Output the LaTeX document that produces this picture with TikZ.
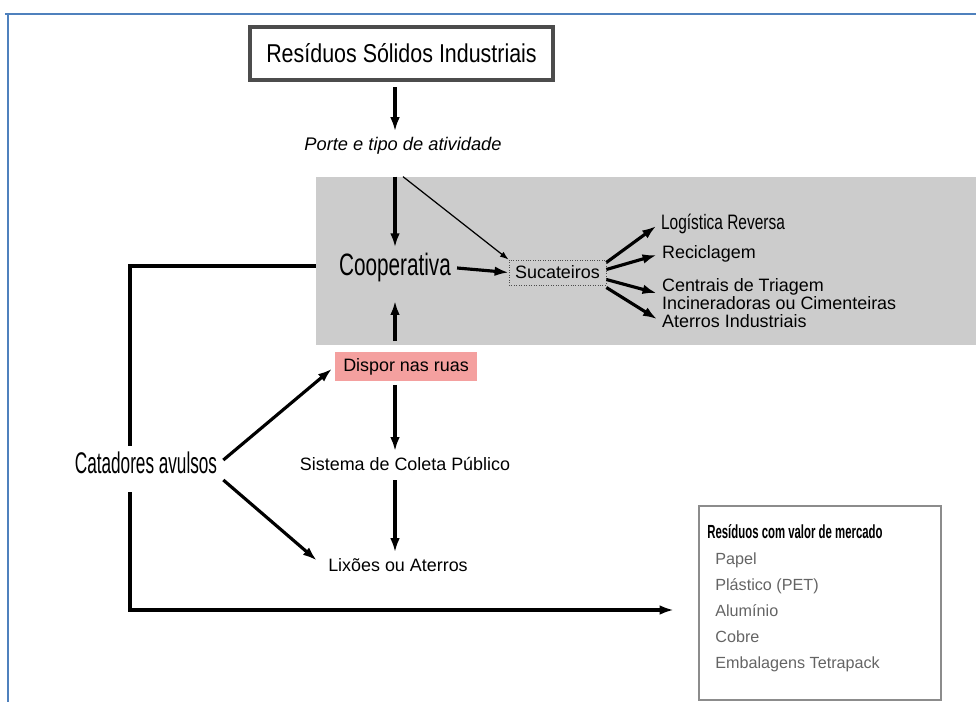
\documentclass[tikz,border=0pt]{standalone}
\usepackage{fontspec}
\setmainfont{Liberation Sans}
\newfontfamily\condtitle[FakeStretch=0.83]{Liberation Sans}
\newfontfamily\condcoop[FakeStretch=0.67]{Liberation Sans}
\newfontfamily\condcat[FakeStretch=0.575]{Liberation Sans}
\newfontfamily\condlog[FakeStretch=0.74]{Liberation Sans}
\newfontfamily\condhead[FakeStretch=0.6]{Liberation Sans}
\usetikzlibrary{positioning, calc, arrows.meta}
\definecolor{framecolor}{RGB}{79,129,189}
\definecolor{zonecolor}{RGB}{204,204,204}
\definecolor{pinkbox}{RGB}{244,160,159}
\definecolor{itemgray}{RGB}{100,100,100}
\tikzstyle{small} = [font=\fontsize{10.2}{12}\selectfont]
\tikzstyle{bigarrow} = [line width=1.8pt,-{Latex[length=8pt,width=5.5pt]}]
\tikzstyle{thinarrow} = [line width=0.7pt,-{Latex[length=5pt,width=3.5pt]}]
\tikzstyle{loopline} = [line width=1.8pt]
\tikzstyle{itemtxt} = [font=\fontsize{9.2}{11}\selectfont, text=itemgray, inner sep=0]

\begin{document}
\begin{tikzpicture}[x=0.02cm,y=-0.02cm]
		\useasboundingbox (0,0) rectangle (976,702);
		\draw[framecolor,line width=1.1pt] (5,14) -- (976,14);
		\draw[framecolor,line width=1.1pt] (8,14) -- (8,702);
		
		\node[fill=zonecolor,minimum width=13.2cm,minimum height=3.36cm,inner sep=0](zona) at (646,261){};
		\node[draw=black!70,line width=2pt,minimum width=6.06cm,minimum height=1.06cm,font=\condtitle\fontsize{14.7}{18}\selectfont](rsi) at (401.5,53.5){Resíduos Sólidos Industriais};
		\node[small,font=\itshape\fontsize{10.4}{12}\selectfont](porte) at (403,146){Porte e tipo de atividade};
		\node[font=\condcoop\fontsize{17.6}{20}\selectfont](coop) at (395,268){Cooperativa};
		\node[small,draw=black!70,densely dotted,minimum width=1.94cm,minimum height=0.5cm,inner sep=0](sucat) at (557.5,272.5){Sucateiros};
		\node[font=\condlog\fontsize{11.9}{14}\selectfont,anchor=west,inner sep=1pt](logi) at (659,224){Logística Reversa};
		\node[small,anchor=west,inner sep=1pt](recic) at (660,254){Reciclagem};
		\node[small,font=\fontsize{10.2}{8}\selectfont,anchor=west,align=left,inner sep=1pt](centrais) at (660,294){Centrais de Triagem\\Incineradoras ou Cimenteiras};
		\node[small,anchor=west,inner sep=1pt](aterros) at (660,321){Aterros Industriais};
		\node[small,fill=pinkbox,minimum width=2.84cm,minimum height=0.58cm,inner sep=0](dispor) at (406,366.5){Dispor nas ruas};
		\node[small](sistema) at (405,464){Sistema de Coleta Público};
		\node[small](lixoes) at (398,565){Lixões ou Aterros};
		\node[font=\condcat\fontsize{17}{20}\selectfont](catad) at (146,463){Catadores avulsos};
		\node[draw=black!45,line width=1.5pt,minimum width=4.84cm,minimum height=3.88cm](mercado) at (820,603){};
		\node[font=\condhead\bfseries\fontsize{10.8}{12}\selectfont,anchor=west,inner sep=0](merctit) at (707,532){Resíduos com valor de mercado};
		\foreach \item [count=\i] in {Papel, Plástico (PET), Alumínio, Cobre, Embalagens Tetrapack}
			\node[itemtxt,anchor=base west](item\i) at (715,538+26*\i){\item};
		
		\draw[bigarrow,shorten <=3pt](rsi.south -| coop)--(porte.north -| coop);
		\draw[bigarrow](zona.north -| coop)--(coop.north);
		\draw[thinarrow]($(zona.north -| coop)+(8,0)$)--(sucat.north west);
		\draw[bigarrow](coop.east)--(sucat.west);
		\draw[bigarrow,shorten >=2pt]($(sucat.east)+(0,-10)$)--(logi.west);
		\draw[bigarrow,shorten >=2pt]($(sucat.east)+(0,-3)$)--(recic.west);
		\draw[bigarrow,shorten >=2pt]($(sucat.east)+(0,7)$)--(centrais.west);
		\draw[bigarrow,shorten >=2pt]($(sucat.east)+(0,15)$)--(aterros.west);
		\draw[bigarrow,shorten <=6pt,shorten >=7pt](dispor.north -| coop)--(coop.south);
		\draw[bigarrow,shorten <=2pt](dispor.south -| coop)--(sistema.north -| coop);
		\draw[bigarrow,shorten <=2pt](sistema.south -| coop)--(lixoes.north -| coop);
		\draw[bigarrow,shorten >=2pt]($(catad.east)+(0,-3)$)--(dispor.west);
		\draw[bigarrow,shorten >=4pt]($(catad.east)+(0,17)$)--(lixoes.west);
		\draw[loopline]($(catad.north)+(-16,0)$) |- ($(coop.west -| zona.west)+(0,-2)$);
		\draw[bigarrow]($(catad.south)+(-16,12)$) |- ($(mercado.west)+(-24,7)$);
\end{tikzpicture}
\end{document}
